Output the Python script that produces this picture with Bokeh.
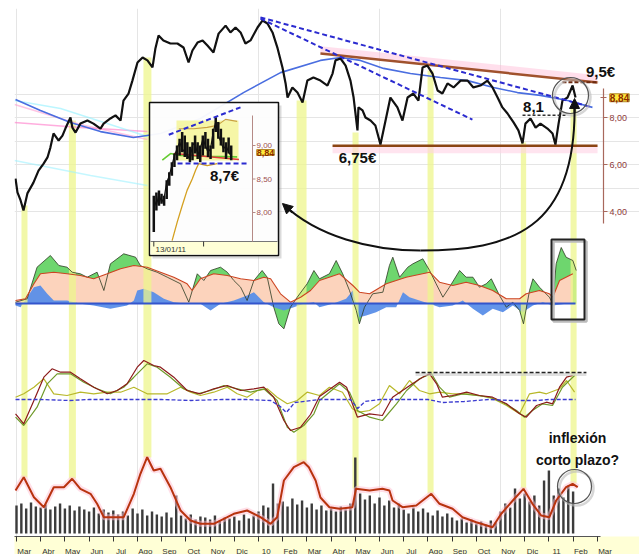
from bokeh.plotting import figure
from bokeh.models import (Range1d, LinearAxis, FixedTicker, CustomJSTickFormatter,
                          Label, Arrow, NormalHead)
from bokeh.embed import file_html
from bokeh.resources import INLINE

# ------------------------------------------------------------------ data
month_labels = ["Mar", "Abr", "May", "Jun", "Jul", "Ago", "Sep", "Oct", "Nov", "Dic", "10", "Feb",
                "Mar", "Abr", "May", "Jun", "Jul", "Ago", "Sep", "Oct", "Nov", "Dic", "11", "Feb", "Mar"]
month_ticks = list(range(len(month_labels)))          # month index (0 = Mar 2009)
price_ticks = [4, 6, 8]

# price (EUR), time in months since Mar 2009
price_t = [-0.04, 0.04, 0.17, 0.29, 0.45, 0.70, 0.91, 1.12, 1.28, 1.40,
           1.53, 1.74, 1.90, 2.02, 2.23, 2.31, 2.44, 2.64, 2.93, 3.18,
           3.47, 3.60, 3.88, 4.09, 4.30, 4.42, 4.63, 4.79, 5.00, 5.21,
           5.41, 5.62, 5.74, 5.87, 6.07, 6.36, 6.65, 6.90, 7.11, 7.27,
           7.48, 7.69, 7.89, 8.14, 8.35, 8.64, 8.84, 9.05, 9.26, 9.46,
           9.67, 9.96, 10.17, 10.37, 10.58, 10.79, 10.99, 11.12, 11.20, 11.40,
           11.61, 11.82, 12.02, 12.27, 12.56, 12.85, 13.06, 13.18, 13.39, 13.60,
           13.80, 13.93, 14.09, 14.13, 14.30, 14.42, 14.63, 14.83, 15.04, 15.25,
           15.45, 15.74, 15.95, 16.16, 16.40, 16.61, 16.78, 16.98, 17.19, 17.40,
           17.60, 17.81, 18.06, 18.35, 18.64, 18.88, 19.17, 19.46, 19.67, 19.88,
           20.08, 20.29, 20.54, 20.74, 20.91, 21.03, 21.24, 21.45, 21.65, 21.94,
           22.15, 22.27, 22.40, 22.56, 22.77, 22.98, 23.10]
price = [5.40, 4.81, 4.47, 4.04, 4.77, 5.23, 5.74, 6.04, 6.30, 6.72,
         7.32, 7.02, 7.23, 7.53, 8.00, 7.57, 7.36, 7.74, 7.87, 7.74,
         7.53, 7.74, 7.96, 8.09, 7.87, 8.72, 9.02, 9.57, 10.34, 10.55,
         10.43, 10.13, 10.94, 11.49, 11.28, 11.15, 11.15, 10.98, 10.34, 10.85,
         11.19, 11.28, 11.06, 10.77, 11.57, 11.91, 11.62, 11.83, 11.62, 11.15,
         11.28, 11.83, 12.13, 12.00, 11.62, 10.94, 10.13, 9.45, 8.85, 9.28,
         9.06, 8.64, 9.57, 9.70, 9.57, 9.36, 9.87, 10.43, 10.51, 10.21,
         9.57, 8.85, 7.45, 8.43, 8.30, 8.00, 7.87, 7.66, 6.85, 7.87,
         8.85, 8.43, 7.87, 8.85, 9.02, 8.72, 10.13, 10.21, 9.87, 9.15,
         9.02, 9.45, 9.28, 9.57, 9.57, 9.28, 9.36, 9.57, 9.28, 8.85,
         8.43, 8.17, 7.79, 7.45, 6.90, 7.74, 7.96, 7.57, 7.74, 7.53,
         7.32, 6.85, 7.74, 8.72, 8.85, 9.36, 8.85]

ma200_t = [-0.04, 0.99, 2.23, 3.47, 4.83, 5.95, 7.60, 9.38, 10.91, 12.56, 13.39,
           14.21, 15.17, 16.28, 17.52, 18.64, 19.71, 20.70, 21.65, 22.77, 23.80]
ma200 = [8.77, 8.30, 7.79, 7.40, 7.15, 7.32, 7.96, 9.06, 9.91, 10.43, 10.55,
         10.43, 10.09, 9.87, 9.70, 9.57, 9.28, 9.06, 8.94, 8.72, 8.43]

pink_a_t = [-0.08, 2.64, 5.41]
pink_a = [8.55, 7.70, 7.06]
pink_b_t = [-0.08, 2.64, 5.41]
pink_b = [7.79, 7.57, 7.40]
cyan_a_t = [-0.08, 1.82, 5.41]
cyan_a = [8.72, 8.38, 7.19]
cyan_b_t = [-0.08, 3.06, 5.41]
cyan_b = [6.17, 5.53, 5.11]

support_level = 6.8
support_t = [13.06, 24.01]
resist_t = [12.56, 24.01]
resist = [10.72, 9.49]
trend1_t = [10.08, 23.80]
trend1 = [12.26, 8.43]
trend2_t = [10.08, 18.84]
trend2 = [12.21, 7.91]
level_95 = 9.5
level_95_t = [22.56, 24.05]
level_81 = 8.1
level_81_t = [20.91, 22.69]

# highlighted turning points (yellow columns)
band_t = [0.33, 2.31, 5.41, 11.78, 14.01, 17.11, 20.95, 23.02]
band_w = [0.25, 0.29, 0.33, 0.41, 0.25, 0.25, 0.22, 0.25]
band_top = [4.26, 7.87, 10.55, 8.72, 7.36, 10.00, 6.94, 8.43]
band_bottom_vol = [56, 55, 76, 70, 45, 40, 45, 50]

# oscillator panel
osc_red_t = [-0.04, 0.37, 0.72, 0.99, 1.54, 2.09, 2.64, 3.19, 3.75, 4.30,
             4.85, 5.40, 5.95, 6.50, 7.05, 7.26, 7.60, 8.15, 8.71, 9.26,
             9.81, 10.22, 10.50, 10.91, 11.32, 11.74, 12.15, 12.52, 13.35, 13.90,
             14.17, 14.59, 15.28, 16.10, 17.07, 17.48, 18.03, 18.58, 19.13, 19.68,
             20.24, 20.79, 21.06, 21.61, 22.02, 22.16, 22.44, 22.99]
osc_red = [3, 4.7, 19.7, 29.7, 31.3, 29.7, 28, 24.7, 29.7, 34.7,
           38, 36.3, 31.3, 26.3, 19.7, 13, 24.7, 29.7, 28, 24.7,
           23, 26.3, 24.7, 9.7, 1.3, 6.3, 13, 23, 29.7, 18,
           11.3, 9.7, 19.7, 26.3, 31.3, 21.3, 18, 21.3, 18, 13,
           4.7, 4.7, 9.7, 13, 9.7, 6.3, 23, 29.7]
osc_black_t = [-0.04, 0.44, 0.85, 1.40, 1.75, 2.09, 2.30, 2.64, 2.92, 3.33,
               3.61, 3.88, 4.43, 4.92, 5.12, 5.40, 5.81, 6.23, 6.78, 7.12,
               7.47, 7.74, 8.02, 8.43, 8.71, 8.98, 9.26, 9.53, 9.81, 10.15,
               10.36, 10.63, 10.84, 11.05, 11.32, 11.60, 12.01, 12.29, 12.52, 12.93,
               13.21, 13.48, 13.76, 14.04, 14.17, 14.38, 14.72, 15.14, 15.41, 15.55,
               15.83, 16.17, 16.38, 16.79, 17.07, 17.34, 17.62, 17.89, 18.31, 18.58,
               18.86, 19.13, 19.41, 19.62, 19.96, 20.24, 20.51, 20.79, 20.95, 21.20,
               21.34, 21.61, 22.02, 22.16, 22.30, 22.51, 22.71, 22.99, 23.13]
osc_black = [1.3, 4.7, 36.3, 48, 38, 36.3, 31.3, 29.7, 26.3, 31.3,
             13, 39.7, 49.7, 46.3, 38, 34.7, 31.3, 26.3, 19.7, 1.3,
             29.7, 23, 33, 36.3, 31.3, 23, 16.3, 3, 23, 33,
             26.3, -3.7, -20.3, -25.3, -3.7, 6.3, 19.7, 33, 24.7, 29.7,
             43, 29.7, 13, -7, -20.3, -3.7, 9.7, 11.3, 38, 46.3,
             26.3, 36.3, 39.7, 44.7, 33, 19.7, 6.3, 16.3, 33, 26.3,
             26.3, 16.3, 19.7, 24.7, 8, -3.7, 1.3, -7, -20.3, 13,
             24.7, 16.3, 6.3, 0, 39.7, 56, 46.3, 43, 33]
osc_blue_t = [-0.04, 0.17, 0.44, 0.72, 0.99, 1.27, 1.54, 2.09, 2.64, 3.19,
              3.88, 4.57, 4.85, 4.99, 5.26, 5.67, 6.09, 6.50, 7.05, 7.60,
              8.02, 8.43, 8.98, 9.53, 9.81, 10.22, 10.63, 11.05, 11.46, 11.87,
              12.29, 12.52, 13.07, 13.62, 13.90, 14.17, 14.45, 14.86, 15.28, 15.69,
              15.97, 16.24, 16.65, 17.07, 17.48, 18.03, 18.44, 18.86, 19.27, 19.68,
              20.10, 20.51, 20.92, 21.34, 21.75, 22.16, 22.71, 23.13]
osc_blue = [-2, -3.7, 6.3, 16.3, 18, 9.7, 3, 3, -0.3, -2,
            -5.3, -2, 3, 13, 14.7, 11.3, 4.7, 1.3, -0.3, -0.3,
            -7, -0.3, 3, 8, 11.3, 1.3, -3.7, -7, -3.7, -0.3,
            1.3, -3.7, -0.3, 4.7, 13, -13.7, -12, -8.7, -3.7, -3.7,
            11.3, 6.3, 3, -0.3, -3.7, -2, 3, -5.3, -12, -5.3,
            -8.7, -2, -8.7, -2, 1.3, -2, -0.3, -0.3]

# momentum panel
mom_red_t = [-0.04, 0.30, 0.72, 1.13, 1.47, 1.82, 2.23, 2.64, 3.19, 3.75,
             4.16, 4.57, 4.99, 5.26, 5.67, 5.95, 6.50, 7.05, 7.60, 8.15,
             8.71, 9.26, 9.81, 10.22, 10.63, 11.05, 11.32, 11.74, 12.15, 12.52,
             13.35, 13.64, 13.88, 14.09, 14.59, 15.12, 15.54, 15.95, 16.36, 16.78,
             17.07, 17.36, 17.60, 18.02, 18.60, 19.13, 19.67, 20.25, 20.79, 21.07,
             21.49, 21.90, 22.15, 22.44, 22.73, 22.98]
mom_red = [-15.3, -25.3, -2, 21.3, 29.7, 26.3, 26.3, 19.7, 11.3, 4.7,
           8, 14.7, 31.3, 38, 33, 31.3, 21.3, 8, 4.7, 9.7,
           13, 8, 9.7, 11.3, 1.3, -22, -32, -28.7, -16, 2,
           16.3, 11.3, -5.3, -18.7, -15.3, -17, 1.3, 8, 14.7, 21.3,
           24.7, 14.7, 1.3, 3, 6.3, 3, 1.3, -5.3, -15.3, -18.7,
           -7, -3.7, -5.3, 11.3, 21.3, 23]
mom_olive_t = [-0.04, 0.30, 0.85, 1.27, 1.68, 2.23, 2.78, 3.33, 3.88, 4.43,
               4.85, 5.40, 5.81, 6.36, 6.91, 7.47, 8.02, 8.57, 9.12, 9.67,
               10.22, 10.77, 11.19, 11.46, 11.87, 12.29, 12.52, 13.35, 13.76, 14.09,
               14.59, 15.12, 15.70, 16.12, 16.65, 17.15, 17.48, 17.89, 18.43, 19.01,
               19.55, 20.08, 20.66, 20.99, 21.32, 21.74, 22.15, 22.56, 23.06]
mom_olive = [-18.7, -27, -8.7, 14.7, 24.7, 24.7, 16.3, 9.7, 4.7, 11.3,
             21.3, 34.7, 31.3, 21.3, 9.7, 4.7, 8, 13, 9.7, 6.3,
             9.7, -2, -28.7, -33.7, -27, -15.3, -2, 14.7, 6.3, -12,
             -18.7, -22, -5.3, 8, 19.7, 24.7, 11.3, 1.3, 4.7, 3,
             1.3, -3.7, -12, -18.7, -12, -5.3, -7, 11.3, 23]
mom_yellow_t = [-0.04, 0.30, 0.72, 1.13, 1.54, 2.09, 2.64, 3.19, 3.75, 4.30,
                4.85, 5.40, 5.81, 6.23, 6.78, 7.19, 7.60, 8.15, 8.71, 9.12,
                9.53, 9.95, 10.36, 10.77, 11.19, 11.60, 12.01, 12.52, 12.93, 13.47,
                13.88, 14.17, 14.59, 15.00, 15.41, 15.83, 16.24, 16.65, 17.07, 17.48,
                18.02, 18.60, 19.13, 19.67, 20.25, 20.79, 21.20, 21.61, 21.90, 22.44,
                22.73, 23.06]
mom_yellow = [1.3, 4.7, 11.3, 19.7, 4.7, 3, 6.3, 4.7, 6.3, 6.3,
              11.3, 4.7, 4.7, 4.7, 11.3, 6.3, 3, 6.3, 11.3, 4.7,
              1.3, 8, 9.7, 1.3, -5.3, -2, 6.3, 3, 11.3, 6.3,
              -10.3, -13.7, -12, -5.3, 13, 4.7, 18, 8, 4.7, 6.3,
              4.7, 4.7, 3, 0, -7, -15.3, 4.7, 6.3, 4.7, 9.7,
              18, 6.3]
mom_blue_t = [-0.04, 1.0, 2.2, 3.0, 4.5, 6.0, 7.2, 8.5, 9.5, 10.5,
              10.9, 11.15, 11.5, 12.5, 13.8, 14.1, 14.4, 15.0, 17.0, 17.6,
              18.5, 19.5, 20.5, 21.5, 22.0, 23.1]
mom_blue = [-1, -1, -2, -1, -1, -1, -2, -1, -1, -2,
            -8, -14, -4, -1, -1, -10, -3, -1, -1, -4,
            -3, -1, -2, -2, -1, -1]
mom_level = 26
mom_level_t = [16.49, 23.55]

# volatility line + volume panel
vola_t = [-0.04, 0.30, 0.72, 1.13, 1.54, 1.96, 2.30, 2.64, 3.06, 3.33,
          3.61, 4.43, 4.85, 5.12, 5.40, 5.67, 5.95, 6.36, 6.78, 7.19,
          7.60, 8.15, 8.71, 8.98, 9.53, 10.08, 10.50, 10.77, 11.05, 11.46,
          11.87, 12.08, 12.36, 12.56, 12.93, 13.35, 13.88, 14.03, 14.59, 15.12,
          15.41, 15.54, 15.95, 16.52, 17.14, 17.48, 18.02, 18.43, 19.00, 19.67,
          20.03, 20.51, 20.95, 21.32, 21.68, 22.02, 22.30, 22.71, 22.98, 23.19]
vola = [43, 56.3, 36.3, 26.3, 46.3, 46.3, 54.7, 44.7, 39.7, 29.7,
        16.3, 16.3, 39.7, 59.7, 76.3, 63, 64.7, 46.3, 23, 13,
        9.7, 9.7, 16.3, 19.7, 23, 16.3, 9.7, 16.3, 53, 66.3,
        71.3, 66.3, 53, 36, 26.3, 24.7, 26.3, 44.7, 43, 44.7,
        43, 33, 26.3, 28, 39.7, 29.7, 24.7, 16.3, 11.3, 6.3,
        19.7, 33, 44.7, 29.7, 18, 16.3, 33, 46.3, 49.7, 46.3]
volume = [28, 30, 25, 31, 27, 26, 29, 24, 27, 30, 25, 28, 23, 27, 24, 22, 26, 20, 24, 21,
          23, 19, 22, 18, 25, 20, 24, 18, 22, 19, 17, 21, 16, 38, 18, 15, 19, 14, 17, 16,
          14, 18, 13, 16, 15, 17, 13, 19, 15, 18, 22, 28, 26, 50, 30, 32, 27, 35, 29, 33,
          26, 30, 24, 28, 23, 25, 22, 27, 24, 30, 76, 40, 34, 38, 30, 36, 28, 33, 26, 30,
          24, 20, 26, 22, 25, 21, 18, 23, 17, 20, 16, 13, 15, 11, 14, 10, 12, 9, 13, 11,
          22, 30, 26, 45, 35, 40, 32, 38, 28, 53, 63, 38, 45, 36, 48, 42]
volume_t = [round(0.2 * i, 1) for i in range(len(volume))]

# inset: daily bars from 13/01/11
inset_day = list(range(31))
inset_low = [7.71, 8.03, 8.10, 8.13, 8.10, 8.20, 8.40, 8.55, 8.68, 8.78, 8.85, 8.90, 8.83, 8.80, 8.75, 8.78,
             8.88, 8.80, 8.75, 8.85, 8.95, 8.83, 8.80, 8.95, 9.20, 9.10, 9.00, 8.90, 8.80, 8.88, 8.78]
inset_high = [8.25, 8.30, 8.33, 8.28, 8.25, 8.48, 8.60, 8.75, 8.88, 9.00, 9.10, 9.20, 9.15, 9.05, 8.98, 9.05,
              9.15, 9.05, 9.00, 9.15, 9.20, 9.10, 9.00, 9.25, 9.42, 9.35, 9.25, 9.12, 9.05, 9.12, 9.00]
inset_close = [8.20, 8.10, 8.28, 8.15, 8.22, 8.45, 8.55, 8.70, 8.85, 8.95, 9.05, 8.95, 8.90, 8.85, 8.80, 9.00,
               9.05, 8.85, 8.95, 9.10, 9.00, 8.90, 8.95, 9.20, 9.35, 9.15, 9.05, 8.95, 9.00, 8.90, 8.84]
inset_red_d = [7.8, 33.0]
inset_red = [8.88, 8.79]
inset_green_d = [3.3, 6.5, 10.3, 20.0, 32.3]
inset_green = [8.78, 8.88, 8.85, 8.84, 8.83]
inset_gold_low_d = [7.1, 9.1, 11.0, 12.9, 14.9, 16.2, 17.4, 20.7, 24.6]
inset_gold_low = [7.58, 7.86, 8.10, 8.33, 8.50, 8.63, 8.73, 8.70, 8.73]
inset_gold_up_d = [9.7, 15.5, 20.7, 24.6, 27.8, 32.3]
inset_gold_up = [9.25, 9.25, 9.27, 9.30, 9.39, 9.36]
inset_trend_d = [5.8, 33.6]
inset_trend = [9.16, 9.57]
inset_floor = 8.73
inset_floor_d = [9.2, 37.1]
inset_ticks = [8.0, 8.5, 9.0]
last_price = 8.84

# ------------------------------------------------------------------ layout helpers (page px)
FX0, FX1, FY0, FY1 = 14, 639, 8, 536


def lin_map(v1, p1, v2, p2):
    k = (p2 - p1) / (v2 - v1)
    return (lambda v: p1 + (v - v1) * k), (lambda q: v1 + (q - p1) / k)


X_PX, X_V = lin_map(0, 16, 1, 40.2)
PR_PX, PR_V = lin_map(8, 117, 4, 211)
OSC_PX, OSC_V = lin_map(0, 303, 1, 302)
MOM_PX, MOM_V = lin_map(0, 398, 1, 397)
VOL_PX, VOL_V = lin_map(0, 533, 1, 532)
IX_PX, IX_V = lin_map(0, 153.3, 1, 155.88)
IY_PX, IY_V = lin_map(9, 145, 8, 212)


def xr(V):
    return Range1d(V(FX0), V(FX1))


def yr(V):
    return Range1d(V(FY1), V(FY0))


FONT = "Liberation Sans"
LABEL_OFF = 0.32

p = figure(frame_width=FX1 - FX0, frame_height=FY1 - FY0, x_range=xr(X_V), y_range=yr(PR_V),
           output_backend="svg", toolbar_location=None, x_axis_location=None, y_axis_location=None,
           min_border_left=FX0, min_border_right=0, min_border_top=FY0, min_border_bottom=18,
           outline_line_color=None, background_fill_color="white", border_fill_color="white")
p.extra_x_ranges = {"ix": xr(IX_V)}
p.extra_y_ranges = {"osc": yr(OSC_V), "mom": yr(MOM_V), "vol": yr(VOL_V), "iy": yr(IY_V)}

xax = LinearAxis(
    ticker=FixedTicker(ticks=[i + LABEL_OFF for i in month_ticks], minor_ticks=month_ticks),
    formatter=CustomJSTickFormatter(
        args=dict(labs=month_labels, off=LABEL_OFF),
        code="const i = Math.round(tick - off); return (i >= 0 && i < labs.length) ? labs[i] : '';"),
    bounds=(X_V(14), X_V(600)),
    major_tick_line_color=None, major_tick_out=0, major_tick_in=0,
    minor_tick_line_color="#333333", minor_tick_out=5, minor_tick_in=0,
    axis_line_color="#555555", major_label_standoff=5,
    major_label_text_font=FONT, major_label_text_font_size="8px", major_label_text_color="#333333",
    background_fill_color="#ffffd6")
p.add_layout(xax, "below")

yax = LinearAxis(
    fixed_location=X_V(603),
    bounds=(PR_V(223), PR_V(88)), ticker=FixedTicker(ticks=price_ticks, minor_ticks=[last_price]),
    formatter=CustomJSTickFormatter(code="return tick.toFixed(2).replace('.', ',');"),
    axis_line_color="#a8685c", axis_line_width=1.2, major_tick_line_color="#a8685c",
    major_tick_out=4, major_tick_in=0, minor_tick_line_color="#a8685c", minor_tick_out=3, minor_tick_in=3,
    major_label_standoff=2, major_label_text_font=FONT, major_label_text_font_size="9px",
    major_label_text_color="#8e3b3b")
p.add_layout(yax, "right")

# ---- oscillator fills (below the highlight columns)
p.varea(x=osc_black_t, y1=[0] * len(osc_black_t), y2=osc_black, fill_color="#5ed25e", fill_alpha=0.9,
        y_range_name="osc")
p.varea(x=osc_red_t, y1=[0] * len(osc_red_t), y2=osc_red, fill_color="#fcd3bc", fill_alpha=1.0,
        y_range_name="osc")
p.varea(x=osc_blue_t, y1=[0] * len(osc_blue_t), y2=osc_blue, fill_color="#5a8ee8", fill_alpha=0.95,
        y_range_name="osc")

# ---- yellow columns
p.quad(left=[t - w / 2 for t, w in zip(band_t, band_w)], right=[t + w / 2 for t, w in zip(band_t, band_w)],
       top=band_top, bottom=[PR_V(VOL_PX(q)) for q in band_bottom_vol],
       fill_color="#eef58c", fill_alpha=0.75, line_color=None)

# ---- price panel
p.quad(left=[support_t[0]], right=[support_t[1]], top=[support_level], bottom=[support_level - 0.32],
       fill_color="#ffd2e4", fill_alpha=0.6, line_color=None)
p.line(resist_t, [r + 0.16 for r in resist], line_color="#ffb8d4", line_width=7, line_alpha=0.45)
for xs, ys, col in [(pink_a_t, pink_a, "#ff9fd0"), (pink_b_t, pink_b, "#ff77c8"),
                    (cyan_a_t, cyan_a, "#8ff0ff"), (cyan_b_t, cyan_b, "#9ff2ff")]:
    p.line(xs, ys, line_color=col, line_width=1.5, line_alpha=0.6)
p.line(ma200_t, ma200, line_color="#4a6ee0", line_width=1.6)
p.line(resist_t, resist, line_color="#a0522d", line_width=2.5)
p.line(support_t, [support_level] * 2, line_color="#8b4513", line_width=2.5)
p.line(price_t, price, line_color="#111111", line_width=2.2)
p.line(trend1_t, trend1, line_color="#2b2bd0", line_width=2, line_dash="5 3")
p.line(trend2_t, trend2, line_color="#2b2bd0", line_width=2, line_dash="5 3")
p.line(level_95_t, [level_95] * 2, line_color="#6b2a10", line_width=2, line_dash="4 2")
p.line(level_81_t, [level_81] * 2, line_color="#333333", line_width=1.5, line_dash="3 2")

# ---- oscillator lines
p.line(osc_black_t, osc_black, line_color="#2c3a22", line_width=0.8, y_range_name="osc")
p.line(osc_red_t, osc_red, line_color="#cc4422", line_width=1.1, y_range_name="osc")
p.line([price_t[0], price_t[-1]], [0, 0], line_color="#3355cc", line_width=1.8, y_range_name="osc")
p.quad(left=[X_V(553)], right=[X_V(586)], top=[OSC_V(241)], bottom=[OSC_V(321)],
       fill_color=None, line_color="#bbbbbb", line_width=2.5, y_range_name="osc")
p.quad(left=[X_V(551)], right=[X_V(584)], top=[OSC_V(239)], bottom=[OSC_V(319)],
       fill_color=None, line_color="#222222", line_width=2, y_range_name="osc")

# ---- momentum panel
p.line(mom_yellow_t, mom_yellow, line_color="#b8b82a", line_width=1.2, y_range_name="mom")
p.line(mom_olive_t, mom_olive, line_color="#6f9a2a", line_width=1.2, y_range_name="mom")
p.line(mom_red_t, mom_red, line_color="#8b1a1a", line_width=1.2, y_range_name="mom")
p.line(mom_blue_t, mom_blue, line_color="#3a3ad0", line_width=1.3, line_dash="4 2", y_range_name="mom")
p.line(mom_level_t, [mom_level - 2] * 2, line_color="#cccccc", line_width=3, line_alpha=0.6, y_range_name="mom")
p.line(mom_level_t, [mom_level] * 2, line_color="#222222", line_width=1.5, line_dash="4 2", y_range_name="mom")

# ---- volume + volatility panel
p.vbar(x=volume_t, top=volume, bottom=0, width=0.1, fill_color="#3c3c3c", line_color=None, y_range_name="vol")
p.line(vola_t, vola, line_color="#ffbfd2", line_width=6, line_alpha=0.5, y_range_name="vol")
p.line(vola_t, vola, line_color="#b8330f", line_width=2, y_range_name="vol")

# ---- inset (zoom on the last weeks)
p.quad(left=[IX_V(152)], right=[IX_V(281)], top=[IY_V(105)], bottom=[IY_V(258)],
       fill_color="#999999", fill_alpha=0.35, line_color=None, x_range_name="ix", y_range_name="iy")
p.quad(left=[IX_V(149)], right=[IX_V(278)], top=[IY_V(102)], bottom=[IY_V(255)],
       fill_color="white", fill_alpha=0.94, line_color="#111111", line_width=1.5,
       x_range_name="ix", y_range_name="iy")
p.quad(left=[IX_V(150)], right=[IX_V(277)], top=[IY_V(241)], bottom=[IY_V(254)],
       fill_color="#ffffd6", line_color=None, x_range_name="ix", y_range_name="iy")
p.line([IX_V(150), IX_V(277)], [IY_V(241)] * 2, line_color="#777777", line_width=1,
       x_range_name="ix", y_range_name="iy")
p.segment(x0=[0, 19.3], y0=[IY_V(241)] * 2, x1=[0, 19.3], y1=[IY_V(246)] * 2, line_color="#333333",
          x_range_name="ix", y_range_name="iy")
p.quad(left=[IX_V(176)], right=[IX_V(238)], top=[IY_V(120)], bottom=[IY_V(160)],
       fill_color="#f2f27a", fill_alpha=0.65, line_color=None, x_range_name="ix", y_range_name="iy")
p.line(inset_gold_low_d, inset_gold_low, line_color="#d4a020", line_width=1.3, x_range_name="ix", y_range_name="iy")
p.line(inset_gold_up_d, inset_gold_up, line_color="#c9a040", line_width=1.1, x_range_name="ix", y_range_name="iy")
p.line(inset_green_d, inset_green, line_color="#66cc33", line_width=1.6, x_range_name="ix", y_range_name="iy")
p.line(inset_red_d, inset_red, line_color="#e03a3a", line_width=1.6, x_range_name="ix", y_range_name="iy")
p.segment(x0=inset_day, y0=inset_low, x1=inset_day, y1=inset_high, line_color="#111111", line_width=2.5,
          x_range_name="ix", y_range_name="iy")
p.line(inset_day, inset_close, line_color="#111111", line_width=1.2, x_range_name="ix", y_range_name="iy")
p.line(inset_trend_d, inset_trend, line_color="#2b2bd0", line_width=2, line_dash="5 3",
       x_range_name="ix", y_range_name="iy")
p.line(inset_floor_d, [inset_floor] * 2, line_color="#2b2bd0", line_width=2, line_dash="5 3",
       x_range_name="ix", y_range_name="iy")
ax_d = IX_V(252)
p.line([ax_d, ax_d], [IY_V(241), IY_V(115)], line_color="#b58a86", line_width=1,
       x_range_name="ix", y_range_name="iy")
p.segment(x0=[ax_d] * 3, y0=inset_ticks, x1=[IX_V(255)] * 3, y1=inset_ticks, line_color="#b58a86",
          x_range_name="ix", y_range_name="iy")
for tk in inset_ticks:
    p.add_layout(Label(x=IX_V(256), y=tk, text=f"{tk:.2f}".replace(".", ","), x_range_name="ix",
                       y_range_name="iy", text_font=FONT, text_font_size="8px", text_color="#a05050",
                       text_baseline="middle"))
p.add_layout(Label(x=IX_V(155), y=IY_V(249), text="13/01/11", x_range_name="ix", y_range_name="iy",
                   text_font=FONT, text_font_size="8px", text_color="#333333", text_baseline="middle"))
p.add_layout(Label(x=IX_V(265), y=IY_V(152), text=f"{last_price:.2f}".replace(".", ","),
                   x_range_name="ix", y_range_name="iy", text_font=FONT, text_font_size="9px",
                   text_font_style="bold", text_color="#8b2a00", text_align="center", text_baseline="middle",
                   background_fill_color="#ffea3c", border_line_color="#b5892a"))
p.add_layout(Label(x=IX_V(224), y=IY_V(175), text="8,7€", x_range_name="ix", y_range_name="iy",
                   text_font=FONT, text_font_size="15px", text_font_style="bold", text_color="#111111",
                   text_align="center", text_baseline="middle"))

# ---- circles and the big curved arrow
p.scatter([X_V(572)], [PR_V(97)], size=36, marker="circle", fill_color=None, line_color="#bbbbbb",
          line_width=2.5, line_alpha=0.6)
p.scatter([X_V(570)], [PR_V(95)], size=36, marker="circle", fill_color=None, line_color="#555555", line_width=1.2)
p.scatter([X_V(576)], [VOL_V(488)], size=34, marker="circle", fill_color=None, line_color="#bbbbbb",
          line_width=2.5, line_alpha=0.6, y_range_name="vol")
p.scatter([X_V(574)], [VOL_V(486)], size=34, marker="circle", fill_color=None, line_color="#555555",
          line_width=1.2, y_range_name="vol")
p.bezier(x0=[11.03, 16.69], y0=[4.30, 2.34], x1=[16.69, 23.06], y1=[2.34, 8.55],
         cx0=[12.44, 20.41], cy0=[2.94, 2.34], cx1=[14.63, 23.14], cy1=[2.34, 3.19],
         line_color="#111111", line_width=2)
p.add_layout(Arrow(end=NormalHead(size=10, fill_color="#111111", line_color="#111111"),
                   x_start=23.06, y_start=8.2, x_end=23.06, y_end=8.81, line_width=2, line_color="#111111"))
p.add_layout(Arrow(end=NormalHead(size=10, fill_color="#111111", line_color="#111111"),
                   x_start=11.40, y_start=3.96, x_end=10.99, y_end=4.34, line_width=2, line_color="#111111"))

# ---- texts
for txt, px, py in [("6,75€", 357, 157), ("9,5€", 600, 71), ("8,1", 533, 106)]:
    p.add_layout(Label(x=X_V(px), y=PR_V(py), text=txt, text_font=FONT, text_font_size="15px",
                       text_font_style="bold", text_color="#111111", text_align="center",
                       text_baseline="middle"))
p.add_layout(Label(x=X_V(619), y=last_price, text=f"{last_price:.2f}".replace(".", ","), text_font=FONT,
                   text_font_size="10px", text_font_style="bold", text_color="#8b2a00", text_align="center",
                   text_baseline="middle", background_fill_color="#ffea3c", border_line_color="#b5892a"))
for txt, py in [("inflexión", 437), ("corto plazo?", 459)]:
    p.add_layout(Label(x=X_V(577), y=VOL_V(py), y_range_name="vol", text=txt, text_font=FONT,
                       text_font_size="14px", text_font_style="bold", text_color="#111111",
                       text_align="center", text_baseline="middle"))

open("out.html", "w").write(file_html(p, INLINE))
